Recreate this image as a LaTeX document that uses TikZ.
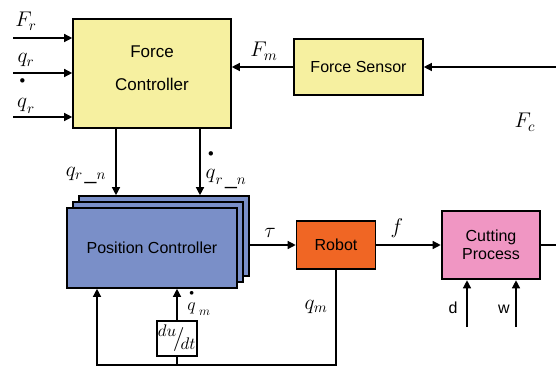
\RequirePackage{fix-cm}
\documentclass[tikz,border=0pt]{standalone}
\usepackage{graphicx}
\usepackage{fontspec}
\setmainfont{Liberation Sans}
\usetikzlibrary{arrows.meta}
\definecolor{myYellow}{RGB}{246, 240, 160}
\definecolor{myBlue}{RGB}{122, 143, 200}
\definecolor{myOrange}{RGB}{240, 102, 36}
\definecolor{myPink}{RGB}{240, 150, 195}
\newcommand{\updot}[2]{\stackrel{\raisebox{#2}{$\scriptscriptstyle\bullet$}}{#1}}
\newcommand{\sigmath}[2][1.25]{\scalebox{#1}{$#2$}}

\begin{document}
\begin{tikzpicture}[x = 1pt, y = -1pt, line width = 1.3pt,
    >={Triangle[length = 8pt, width = 8pt]},
    block/.style = {draw = black, line width = 1.6pt, align = center, inner sep = 0pt,
      font = \fontsize{16}{19}\selectfont},
    sig/.style = {anchor = base, inner sep = 0pt, font = \fontsize{17}{19}\selectfont}]
  % Rahmen
  \useasboundingbox (0, 0) rectangle (556, 366);
  % Bloecke oben
  \node [block, fill = myYellow, minimum width = 158, minimum height = 109,
    font = \fontsize{17}{33}\selectfont] (fc) at (152, 73.5) {Force\\Controller\rule[-11pt]{0pt}{0pt}};
  \node [block, fill = myYellow, minimum width = 129, minimum height = 56] (fs) at (358.5, 67) {Force Sensor};
  % Position Controller (gestapelt)
  \node [block, fill = myBlue, minimum width = 170, minimum height = 80] (pcb) at (164, 236) {};
  \node [block, fill = myBlue, minimum width = 170, minimum height = 80] (pcm) at (158, 242) {};
  \node [block, fill = myBlue, minimum width = 170, minimum height = 80] (pc) at (152, 248) {Position Controller};
  % Bloecke unten
  \node [block, fill = myOrange, minimum width = 79, minimum height = 48] (rob) at (336, 245) {Robot};
  \node [block, fill = myPink, line width = 2.6pt, minimum width = 98, minimum height = 68,
    font = \fontsize{16}{18}\selectfont] (cp) at (491, 245) {Cutting\\Process};
  \node [block, fill = white, line width = 1.4pt, minimum width = 40, minimum height = 35]
    (dudt) at (177, 338.5) {\sigmath[1.5]{{}^{du}\!\big/\!{}_{dt}}};
  % Hilfspunkte
  \coordinate (inFr) at (13, 38);
  \coordinate (inqr) at (13, 73);
  \coordinate (inqdr) at (13, 117);
  \coordinate (inFc) at (556, 67);
  \coordinate (outcp) at (556, 245);
  \coordinate (ind) at (467, 327);
  \coordinate (inw) at (516, 327);
  \coordinate (bot) at (0, 365);
  \coordinate (pcin) at ([xshift = -55pt]pc.south);
  % Eingaenge Force Controller
  \draw [->] (inFr) -- (inFr -| fc.west);
  \draw [->] (inqr) -- (inqr -| fc.west);
  \draw [->] (inqdr) -- (inqdr -| fc.west);
  \draw [->] (fs.west) -- (fs.west -| fc.east);
  \draw [->] (inFc) -- (fs.east);
  % Force -> Position
  \draw [->] ([xshift = -36pt]fc.south) -- ([xshift = -36pt]fc.south |- pcb.north);
  \draw [->] ([xshift = 48pt]fc.south) -- ([xshift = 48pt]fc.south |- pcb.north);
  % Vorwaertszweig
  \draw [->] (pcb.east |- rob.west) -- (rob.west);
  \draw [->] (rob.east) -- (cp.west);
  \draw (cp.east) -- (outcp);
  \draw [->] (ind) -- (ind |- cp.south);
  \draw [->] (inw) -- (inw |- cp.south);
  % Rueckfuehrung
  \draw [->] (rob.south) -- (rob.south |- bot) -- (pcin |- bot) -- (pcin);
  \draw (dudt.south) -- (dudt.south |- bot);
  \draw [->] (dudt.north) -- (dudt.north |- pc.south);
  % Signale
  \node [sig] (lFr) at (26, 27) {\sigmath{F_r}};
  \node [sig] (lqr) at (26, 63) {\sigmath{q_r}};
  \node [sig] (lqdr) at (26, 110) {\sigmath{\updot{q}{10pt}_r}};
  \node [sig] (lFm) at (264, 57) {\sigmath{F_m}};
  \node [sig] (lFc) at (525, 128) {\sigmath{F_c}};
  \node [sig] (lqrn) at (86, 176) {\sigmath{q_{r\,\_n}}};
  \node [sig] (lqdrn) at (226, 181) {\sigmath{\updot{q}{8pt}_{r\,\_n}}};
  \node [sig] (ltau) at (270, 237) {\sigmath{\tau}};
  \node [sig] (lf) at (397, 233) {\sigmath{f}};
  \node [sig] (lqm) at (316, 309) {\sigmath{q_m}};
  \node [sig] (lqdm) at (199, 313) {\sigmath[1.05]{\updot{q}{5pt}_{\;m}}};
  \node [sig, font = \fontsize{16}{18}\selectfont] (ld) at (453, 313) {d};
  \node [sig, font = \fontsize{16}{18}\selectfont] (lw) at (504, 313) {w};
\end{tikzpicture}
\end{document}
